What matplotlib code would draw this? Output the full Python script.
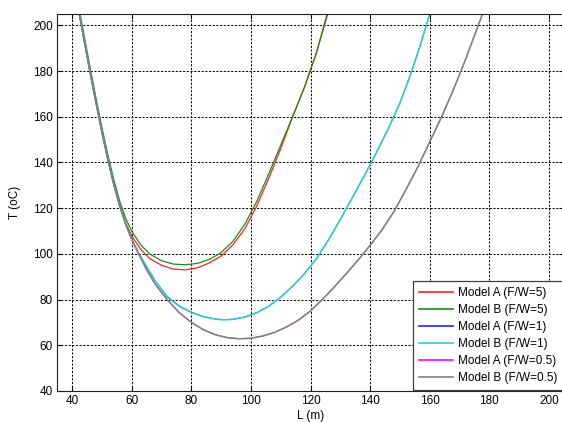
import matplotlib
matplotlib.use("Agg")
import matplotlib.pyplot as plt

# Model A / Model B, F/W = 5
L_5 = [42, 44, 46, 48, 50, 52, 54, 56, 58, 60, 63, 66, 70, 74, 78, 82, 86, 90,
       94, 98, 102, 106, 110, 114, 118, 122, 126]
T_a5 = [208, 194, 180, 166.5, 153.5, 141.5, 130.5, 121, 113.5, 108, 102, 98, 95,
        93.3, 93, 93.8, 96, 99, 104, 111, 121, 133, 146, 160, 173, 188, 207]
T_b5 = [210, 196, 182, 168.5, 155.5, 143.5, 132.5, 123, 115.5, 110, 104, 100, 97,
        95.5, 95.2, 95.8, 97.5, 100.5, 105.5, 113, 123, 135, 147.5, 160, 173, 188, 206]

# F/W = 1
L_1 = [42, 44, 46, 48, 50, 52, 54, 56, 58, 60, 62, 65, 68, 72, 76, 80, 84, 88, 91,
       94, 98, 102, 106, 110, 114, 118, 122, 126, 130, 134, 138, 142, 146, 150,
       154, 157, 160]
T_a1 = [208, 194, 180, 166.5, 153.5, 141.5, 130.5, 121, 113, 106.5, 101, 94.3,
        88, 81.3, 77.2, 74.5, 72.6, 71.5, 71.2, 71.4, 72.4, 74.3, 77.1, 81.1, 85.9,
        91.4, 97.9, 106.1, 115.1, 124.6, 134.1, 144.1, 154.6, 166.1, 180.1, 192.1, 205]
T_b1 = [208, 194, 180, 166.5, 153.5, 141.5, 130.5, 121, 113, 106.5, 101, 94.5,
        88, 81, 77, 74.3, 72.5, 71.4, 71.1, 71.3, 72.3, 74.2, 77, 81, 85.8,
        91.3, 97.8, 106, 115, 124.5, 134, 144, 154.5, 166, 180, 192, 205]

# F/W = 0.5
L_05 = [42, 44, 46, 48, 50, 52, 54, 56, 58, 60, 62, 65, 68, 72, 76, 80, 84, 88, 92,
        96, 100, 104, 108, 112, 116, 120, 124, 128, 132, 136, 140, 144, 148, 152,
        156, 160, 164, 168, 172, 176, 178]
T_a05 = [208, 194, 180, 166.5, 153.5, 141.5, 130.5, 121, 113, 106.5, 101, 93.2,
         86.7, 79.9, 74.3, 70.1, 66.9, 64.7, 63.4, 62.9, 63.1, 64.1, 65.7, 68.1,
         71.1, 75.1, 80.1, 85.6, 91.4, 97.4, 103.8, 110.6, 118.6, 128.1, 138.1,
         149.1, 160.1, 172.1, 185.1, 199.1, 206]
T_b05 = [208, 194, 180, 166.5, 153.5, 141.5, 130.5, 121, 113, 106.5, 101, 93,
         86.5, 79.8, 74.2, 70, 66.8, 64.6, 63.3, 62.8, 63, 64, 65.6, 68, 71, 75,
         80, 85.5, 91.3, 97.3, 103.7, 110.5, 118.5, 128, 138, 149, 160, 172, 185,
         199, 206]

labels = ["Model A (F/W=5)", "Model B (F/W=5)", "Model A (F/W=1)",
          "Model B (F/W=1)", "Model A (F/W=0.5)", "Model B (F/W=0.5)"]
colors = ["#ff2020", "#1a8c1a", "#2020ff", "#30cccc", "#ff00ff", "#808080"]
widths = [0.9, 0.9, 0.6, 1.15, 0.6, 1.15]

plt.rcParams["font.family"] = ["Liberation Sans", "DejaVu Sans"]
plt.rcParams["font.size"] = 8.5

fig = plt.figure(figsize=(5.62, 4.23), dpi=100)
ax = fig.add_axes([57.1 / 562, 1 - 390.9 / 423, 506.8 / 562, 377 / 423])

series = [(L_5, T_a5), (L_5, T_b5), (L_1, T_a1), (L_1, T_b1),
          (L_05, T_a05), (L_05, T_b05)]
for (x, y), lab, c, w in zip(series, labels, colors, widths):
    ax.plot(x, y, color=c, lw=w, label=lab)

ax.set_xlim(35, 205)
ax.set_ylim(40, 205)
ax.set_xticks(range(40, 201, 20))
ax.set_yticks(range(40, 201, 20))
ax.set_xlabel("L (m)", labelpad=2)
ax.set_ylabel("T (oC)", labelpad=9)

ax.grid(True, color="black", lw=0.7, linestyle=(0, (2.2, 1.6)))
ax.tick_params(direction="in", top=True, right=True, length=3.5, width=0.8, pad=3)
for s in ax.spines.values():
    s.set_color("#202020")
    s.set_linewidth(0.8)

leg = ax.legend(loc="upper left", bbox_to_anchor=(413 / 562, 1 - 281 / 423),
                bbox_transform=fig.transFigure, borderaxespad=0, fancybox=False,
                framealpha=1, edgecolor="#404040", handlelength=2.9,
                handletextpad=0.4, labelspacing=0.42, borderpad=0.5,
                fontsize=8.5)
leg.get_frame().set_linewidth(0.9)
for h in leg.get_lines():
    h.set_linewidth(1.2)

fig.savefig("out.png", dpi=100)
